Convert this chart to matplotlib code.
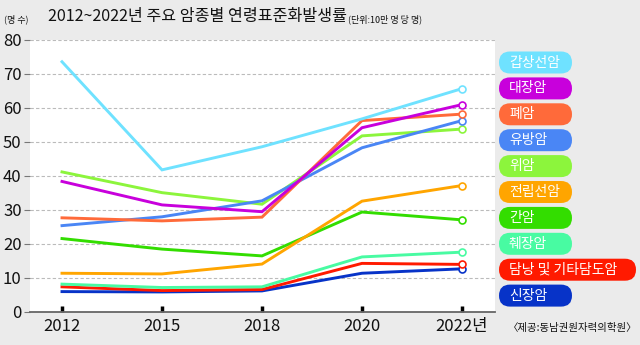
import matplotlib
matplotlib.use('Agg')
import matplotlib.pyplot as plt
from matplotlib.patches import FancyBboxPatch

plt.rcParams['font.family'] = ['Liberation Sans Narrow', 'Noto Sans CJK KR', 'DejaVu Sans']

years = ['2012', '2015', '2018', '2020', '2022년']

cancer_names = ['갑상선암', '대장암', '폐암', '유방암', '위암',
                '전립선암', '간암', '췌장암', '담낭 및 기타담도암', '신장암']
colors = ['#6FE2FF', '#C800DC', '#FF6A3A', '#4A86F5', '#8CF53C',
          '#FFA500', '#33DD00', '#48FBA2', '#FF1A00', '#0733C8']

thyroid = [73.6, 41.8, 48.6, 56.8, 65.7]
colorectal = [38.4, 31.5, 29.5, 54.2, 61.0]
lung = [27.7, 26.8, 27.9, 56.3, 58.2]
breast = [25.4, 28.0, 32.7, 48.3, 56.3]
stomach = [41.2, 35.1, 31.7, 51.8, 53.8]
prostate = [11.4, 11.2, 14.1, 32.6, 37.2]
liver = [21.6, 18.5, 16.5, 29.4, 27.1]
pancreas = [8.2, 7.2, 7.4, 16.2, 17.6]
biliary = [7.4, 6.3, 6.6, 14.3, 14.0]
kidney = [6.0, 5.9, 6.2, 11.4, 12.7]

series = [thyroid, colorectal, lung, breast, stomach,
          prostate, liver, pancreas, biliary, kidney]

fig = plt.figure(figsize=(6.4, 3.45), dpi=100, facecolor='#EBEBEB')
ax = fig.add_axes([30 / 640, 1 - 312 / 345, 465 / 640, 272 / 345])
ax.set_facecolor('white')

x = list(range(len(years)))
# draw bottom series first so the upper lines sit on top
for vals, c in reversed(list(zip(series, colors))):
    ax.plot(x, vals, color=c, lw=2.1, solid_joinstyle='miter', zorder=3)
    ax.plot(x[-1], vals[-1], 'o', ms=5, mfc='white', mec=c, mew=1.2, zorder=4)

ax.set_xlim(-0.32, 4.33)
ax.set_ylim(0, 80)
ax.set_yticks(range(0, 81, 10))
ax.set_xticks(x)
ax.set_xticklabels(years)
ax.grid(axis='y', color='#BBBBBB', linestyle=(0, (3, 2)), lw=0.8)
ax.set_axisbelow(True)

for side in ['left', 'right', 'top']:
    ax.spines[side].set_visible(False)
ax.spines['bottom'].set_color('#666666')
ax.spines['bottom'].set_linewidth(1.3)

ax.tick_params(axis='y', direction='out', length=4, width=0.8, color='#777777',
               labelsize=12, pad=2, labelcolor='#111111')
ax.tick_params(axis='x', direction='in', length=4, width=2.5, color='black',
               labelsize=12, pad=4, labelcolor='#111111')

# title and units
fig.text(48 / 640, 1 - 17 / 345, '2012~2022년 주요 암종별 연령표준화발생률',
         fontsize=11.6, fontweight='medium', va='center', ha='left', color='#111111')
fig.text(348 / 640, 1 - 19 / 345, '(단위:10만 명 당 명)',
         fontsize=6.5, va='center', ha='left', color='#111111')
fig.text(4 / 640, 1 - 19 / 345, '(명 수)',
         fontsize=6.5, va='center', ha='left', color='#111111')
fig.text(573 / 640, 1 - 328 / 345, '〈제공:동남권원자력의학원〉',
         fontsize=7.5, va='center', ha='center', color='#111111')

# legend pills on the right
for i, (name, c) in enumerate(zip(cancer_names, colors)):
    cy = 62.5 + i * 25.9
    w = 137 if len(name) > 6 else 73
    box = FancyBboxPatch(((499) / 100, (345 - cy - 11) / 100), w / 100, 22 / 100,
                         boxstyle='round,pad=0,rounding_size=0.11',
                         transform=fig.dpi_scale_trans, facecolor=c,
                         edgecolor='none', figure=fig)
    fig.patches.append(box)
    fig.text(509 / 640, 1 - cy / 345, name, fontsize=10, fontweight='medium',
             color='white', va='center', ha='left')

fig.savefig('out.png', dpi=100, facecolor=fig.get_facecolor())
